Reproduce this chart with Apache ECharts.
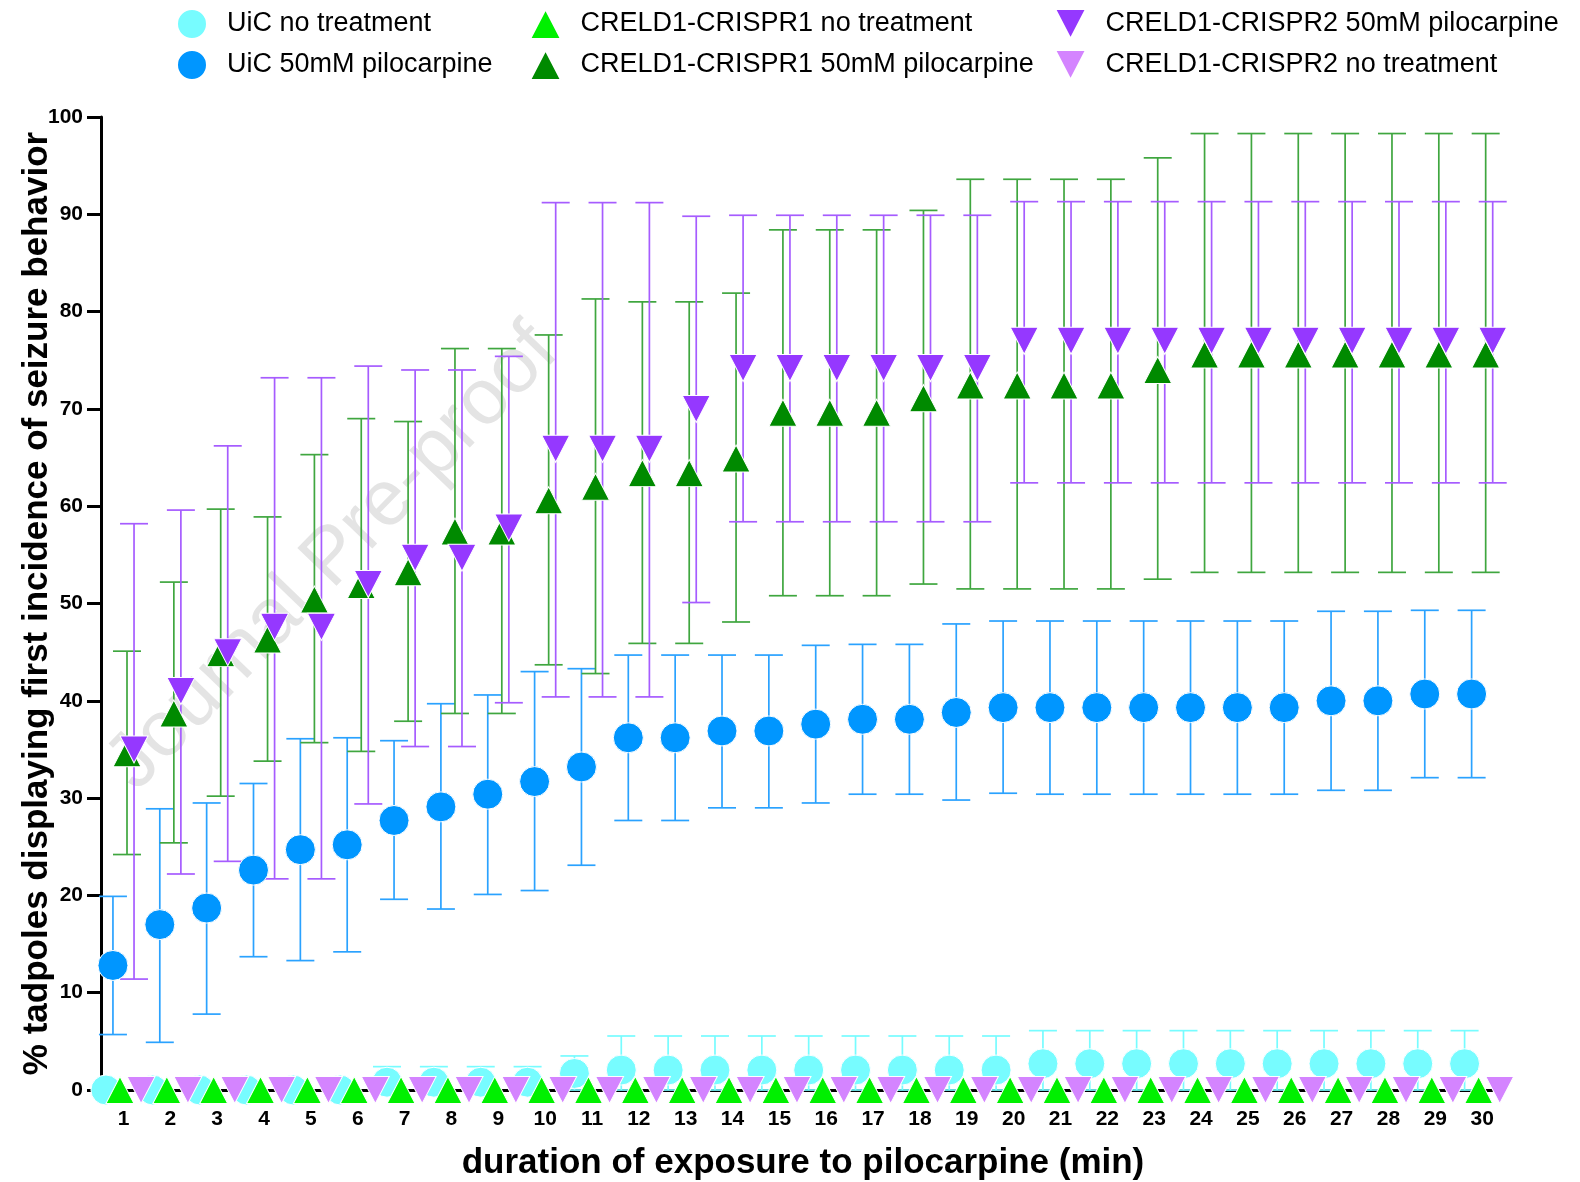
<!DOCTYPE html>
<html>
<head>
<meta charset="utf-8">
<script src="https://cdn.jsdelivr.net/npm/echarts@6/dist/echarts.min.js"></script>
<style>
html,body{margin:0;padding:0;background:#fff;}
#chart{width:1580px;height:1182px;}
</style>
</head>
<body>
<div id="chart"></div>
<script>
// ---------- data ----------
const minutes = [1,2,3,4,5,6,7,8,9,10,11,12,13,14,15,16,17,18,19,20,21,22,23,24,25,26,27,28,29,30];

const seriesNames = [
  'UiC no treatment',
  'UiC 50mM pilocarpine',
  'CRELD1-CRISPR1 no treatment',
  'CRELD1-CRISPR1 50mM pilocarpine',
  'CRELD1-CRISPR2 50mM pilocarpine',
  'CRELD1-CRISPR2 no treatment'
];

const uicNoTx   = [0,0,0,0,0,0,0.8,0.8,0.8,0.8,1.7,2.05,2.05,2.05,2.05,2.05,2.05,2.05,2.05,2.05,2.7,2.7,2.7,2.7,2.7,2.7,2.7,2.7,2.7,2.7];
const uicNoTxHi = [0,0,0,0,0,0,2.4,2.4,2.4,2.4,3.5,5.55,5.55,5.55,5.55,5.55,5.55,5.55,5.55,5.55,6.1,6.1,6.1,6.1,6.1,6.1,6.1,6.1,6.1,6.1];
const uicNoTxLo = [0,0,0,0,0,0,0,0,0,0,0,0,0,0,0,0,0,0,0,0,0,0,0,0,0,0,0,0,0,0];

const uicPilo   = [12.8,17.0,18.7,22.6,24.7,25.2,27.7,29.1,30.4,31.7,33.2,36.2,36.2,36.9,36.9,37.6,38.1,38.1,38.8,39.3,39.3,39.3,39.3,39.3,39.3,39.3,40.0,40.0,40.7,40.7];
const uicPiloHi = [19.9,28.9,29.5,31.5,36.1,36.2,35.9,39.7,40.6,43.0,43.3,44.7,44.7,44.7,44.7,45.7,45.8,45.8,47.9,48.2,48.2,48.2,48.2,48.2,48.2,48.2,49.2,49.2,49.3,49.3];
const uicPiloLo = [5.7,4.9,7.8,13.7,13.3,14.2,19.6,18.6,20.1,20.5,23.1,27.7,27.7,29.0,29.0,29.5,30.4,30.4,29.8,30.5,30.4,30.4,30.4,30.4,30.4,30.4,30.8,30.8,32.1,32.1];

const cr1NoTx   = [0,0,0,0,0,0,0,0,0,0,0,0,0,0,0,0,0,0,0,0,0,0,0,0,0,0,0,0,0,0];

const cr1Pilo   = [34.6,38.7,44.9,46.3,50.4,51.9,53.2,57.4,57.4,60.6,62.0,63.4,63.4,64.9,69.6,69.6,69.6,71.1,72.4,72.4,72.4,72.4,74.0,75.6,75.6,75.6,75.6,75.6,75.6,75.6];
const cr1PiloHi = [45.1,52.2,59.7,58.9,65.3,69.0,68.7,76.2,76.2,77.6,81.3,81.0,81.0,81.9,88.4,88.4,88.4,90.4,93.6,93.6,93.6,93.6,95.8,98.3,98.3,98.3,98.3,98.3,98.3,98.3];
const cr1PiloLo = [24.2,25.4,30.2,33.8,35.7,34.8,37.9,38.7,38.7,43.7,42.8,45.9,45.9,48.1,50.8,50.8,50.8,52.0,51.5,51.5,51.5,51.5,52.5,53.2,53.2,53.2,53.2,53.2,53.2,53.2];

const cr2Pilo   = [35.0,41.0,45.0,47.6,47.6,52.0,54.7,54.7,57.8,65.9,65.9,65.9,70.0,74.2,74.2,74.2,74.2,74.2,74.2,77.0,77.0,77.0,77.0,77.0,77.0,77.0,77.0,77.0,77.0,77.0];
const cr2PiloHi = [58.2,59.6,66.2,73.2,73.2,74.4,74.0,74.0,75.4,91.2,91.2,91.2,89.8,89.9,89.9,89.9,89.9,89.9,89.9,91.3,91.3,91.3,91.3,91.3,91.3,91.3,91.3,91.3,91.3,91.3];
const cr2PiloLo = [11.4,22.2,23.5,21.7,21.7,29.4,35.3,35.3,39.8,40.4,40.4,40.4,50.1,58.4,58.4,58.4,58.4,58.4,58.4,62.4,62.4,62.4,62.4,62.4,62.4,62.4,62.4,62.4,62.4,62.4];

const cr2NoTx   = [0,0,0,0,0,0,0,0,0,0,0,0,0,0,0,0,0,0,0,0,0,0,0,0,0,0,0,0,0,0];

const yTicks = [0,10,20,30,40,50,60,70,80,90,100];

// ---------- styling ----------
const FONT = 'Liberation Sans, Arial, Helvetica, sans-serif';
const groups = [
  {name: seriesNames[0], v: uicNoTx, hi: uicNoTxHi, lo: uicNoTxLo, color: '#77FCFF', err: '#77FCFF', symbol: 'circle', size: 30, rot: 0},
  {name: seriesNames[1], v: uicPilo, hi: uicPiloHi, lo: uicPiloLo, color: '#0096FF', err: '#2AA2FF', symbol: 'circle', size: 30, rot: 0},
  {name: seriesNames[2], v: cr1NoTx, hi: null, lo: null, color: '#00F000', err: '#00F000', symbol: 'triangle', size: [28,27], rot: 0},
  {name: seriesNames[3], v: cr1Pilo, hi: cr1PiloHi, lo: cr1PiloLo, color: '#008A00', err: '#3FA63F', symbol: 'triangle', size: [28,27], rot: 0},
  {name: seriesNames[4], v: cr2Pilo, hi: cr2PiloHi, lo: cr2PiloLo, color: '#9538FF', err: '#A65CFF', symbol: 'triangle', size: [28,27], rot: 180},
  {name: seriesNames[5], v: cr2NoTx, hi: null, lo: null, color: '#D484FF', err: '#D484FF', symbol: 'triangle', size: [28,27], rot: 180}
];
const STEP = 0.15; // horizontal spread of groups within a minute (in axis units)

const series = [];
groups.forEach((g, k) => {
  const off = (k - 2.5) * STEP;
  if (g.hi) {
    series.push({
      type: 'custom',
      name: 'err_' + k,
      z: 2,
      clip: false,
      silent: true,
      encode: {x: 0, y: [1, 2]},
      data: minutes.map((m, i) => [m + off, g.lo[i], g.hi[i]]),
      renderItem: function (params, api) {
        const x = api.value(0), lo = api.value(1), hi = api.value(2);
        if (lo === hi) return null;
        const p1 = api.coord([x, lo]);
        const p2 = api.coord([x, hi]);
        const hw = 14;
        const st = {stroke: g.err, lineWidth: 1.7};
        return {
          type: 'group',
          children: [
            {type: 'line', shape: {x1: p1[0], y1: p1[1], x2: p2[0], y2: p2[1]}, style: st},
            {type: 'line', shape: {x1: p2[0] - hw, y1: p2[1], x2: p2[0] + hw, y2: p2[1]}, style: st},
            {type: 'line', shape: {x1: p1[0] - hw, y1: p1[1], x2: p1[0] + hw, y2: p1[1]}, style: st}
          ]
        };
      }
    });
  }
});
groups.forEach((g, k) => {
  const off = (k - 2.5) * STEP;
  series.push({
    type: 'scatter',
    name: g.name,
    z: 3 + k,
    clip: false,
    symbol: g.symbol,
    symbolSize: g.size,
    symbolRotate: g.rot,
    itemStyle: {color: g.color, opacity: 1, borderColor: '#ffffff', borderWidth: 1},
    emphasis: {disabled: true},
    data: minutes.map((m, i) => [m + off, g.v[i]])
  });
});

const iconCircle = 'circle';
const iconUp = 'path://M14,0L28,27L0,27Z';
const iconDown = 'path://M0,0L28,0L14,27Z';
function legendBlock(left, items) {
  return {
    orient: 'vertical',
    left: left,
    top: 8,
    padding: 0,
    itemGap: 9,
    itemWidth: 60,
    itemHeight: 30,
    selectedMode: false,
    textStyle: {fontSize: 27, color: '#000', fontFamily: FONT},
    data: items
  };
}

const option = {
  backgroundColor: '#ffffff',
  animation: false,
  textStyle: {fontFamily: FONT},
  legend: [
    legendBlock(176, [{name: seriesNames[0], icon: iconCircle}, {name: seriesNames[1], icon: iconCircle}]),
    legendBlock(529, [{name: seriesNames[2], icon: iconUp}, {name: seriesNames[3], icon: iconUp}]),
    legendBlock(1054, [{name: seriesNames[4], icon: iconDown}, {name: seriesNames[5], icon: iconDown}])
  ],
  grid: {left: 101, top: 117, right: 88, bottom: 92, containLabel: false, outerBoundsMode: 'none'},
  xAxis: {
    type: 'value',
    min: 0.52,
    max: 30.21,
    name: 'duration of exposure to pilocarpine (min)',
    nameLocation: 'middle',
    nameGap: 56,
    nameMoveOverlap: false,
    nameTextStyle: {fontSize: 35, fontWeight: 'bold', color: '#000', fontFamily: FONT, padding: [0, 0, 0, 13]},
    axisLine: {show: true, onZero: false, lineStyle: {color: '#000', width: 3}},
    axisTick: {show: true, length: 6, customValues: minutes, lineStyle: {color: '#000', width: 2}},
    axisLabel: {show: true, customValues: minutes, fontSize: 21, fontWeight: 'bold', color: '#000', margin: 19, fontFamily: FONT},
    splitLine: {show: false}
  },
  yAxis: {
    type: 'value',
    min: 0,
    max: 100,
    interval: 10,
    name: '% tadpoles displaying first incidence of seizure behavior',
    nameLocation: 'middle',
    nameGap: 46,
    nameMoveOverlap: false,
    nameRotate: 90,
    nameTextStyle: {fontSize: 35, fontWeight: 'bold', color: '#000', fontFamily: FONT},
    axisLine: {show: true, lineStyle: {color: '#000', width: 3}},
    axisTick: {show: true, length: 14, lineStyle: {color: '#000', width: 3}},
    axisLabel: {fontSize: 21, fontWeight: 'bold', color: '#000', margin: 18, fontFamily: FONT,
      customValues: yTicks},
    splitLine: {show: false}
  },
  graphic: [{
    type: 'text',
    z: -10,
    x: 333,
    y: 558,
    rotation: 46 * Math.PI / 180,
    style: {text: 'Journal Pre-proof', fontSize: 79, fontFamily: FONT, fill: '#E4E4E4', align: 'center', verticalAlign: 'middle'}
  }],
  series: series
};

const chart = echarts.init(document.getElementById('chart'), null, {renderer: 'canvas'});
chart.setOption(option);
</script>
</body>
</html>
